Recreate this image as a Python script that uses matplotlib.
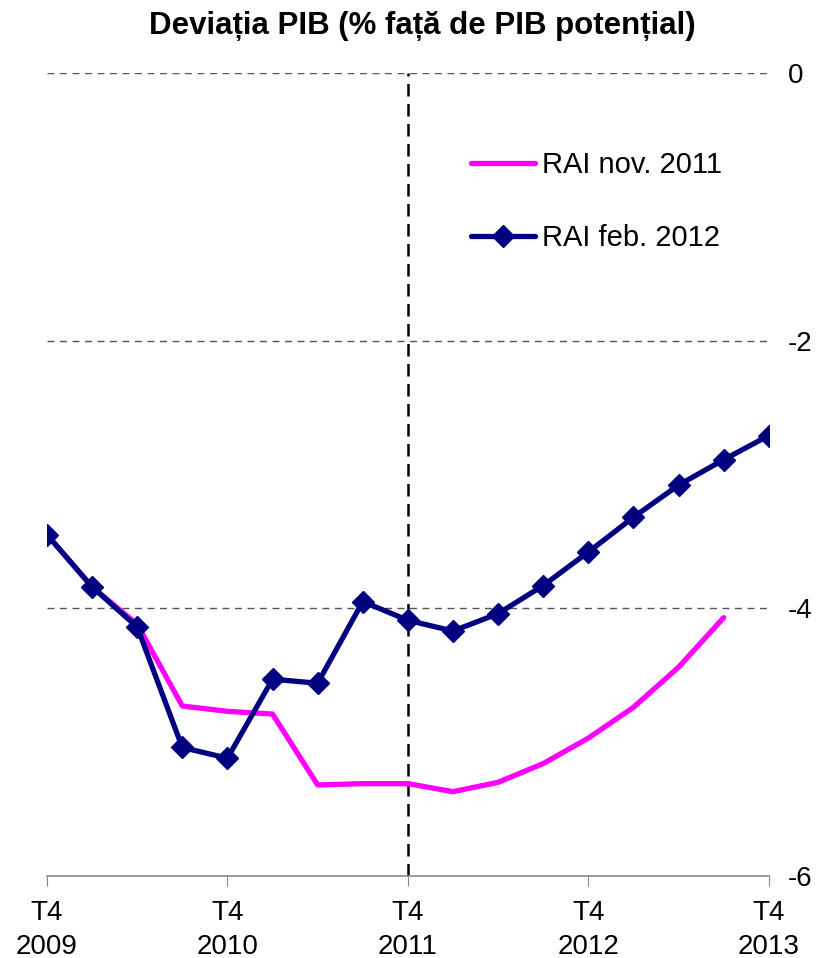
import matplotlib.pyplot as plt
import numpy as np

plt.rcParams['font.family'] = ['Liberation Sans', 'DejaVu Sans']

# trimestre T4 2009 ... T4 2013
trimestre = np.arange(17)
etichete_x = ['T4\n2009', 'T4\n2010', 'T4\n2011', 'T4\n2012', 'T4\n2013']

# RAI nov. 2011 (se opreste la T3 2013)
rai_nov_2011 = [-3.45, -3.84, -4.12, -4.73, -4.77, -4.79, -5.32, -5.31, -5.31,
                -5.37, -5.30, -5.16, -4.97, -4.74, -4.44, -4.07]
# RAI feb. 2012
rai_feb_2012 = [-3.45, -3.84, -4.14, -5.04, -5.12, -4.53, -4.56, -3.95, -4.09,
                -4.17, -4.04, -3.83, -3.58, -3.32, -3.08, -2.89, -2.71]

fig = plt.figure(figsize=(8.24, 9.58), dpi=100)
ax = fig.add_axes([0.057, 0.0856, 0.876, 0.8384])

# grila orizontala
for v in [0, -2, -4]:
    ax.axhline(v, color='#555555', linestyle=(0, (5, 4)), linewidth=1.0, zorder=1)
# linie verticala T4 2011
ax.axvline(8, color='black', linestyle=(0, (5, 3)), linewidth=1.8, zorder=1)

ax.plot(trimestre[:len(rai_nov_2011)], rai_nov_2011, color='#FF00FF', linewidth=3.8,
        label='RAI nov. 2011', zorder=3, solid_capstyle='round')
ax.plot(trimestre, rai_feb_2012, color='#000080', linewidth=3.8, marker='D',
        markersize=11, label='RAI feb. 2012', zorder=4, solid_capstyle='round')

ax.set_xlim(0, 16)
ax.set_ylim(-6, 0)
ax.set_xticks([0, 4, 8, 12, 16])
ax.set_xticklabels(etichete_x, fontsize=20, linespacing=1.4)
ax.tick_params(axis='x', length=7, color='#888888', pad=10)

ax.yaxis.tick_right()
ax.set_yticks([0, -2, -4, -6])
ax.set_yticklabels(['0', '-2', '-4', '-6'], fontsize=20)
ax.tick_params(axis='y', length=0, pad=14)

for s in ['left', 'right', 'top']:
    ax.spines[s].set_visible(False)
ax.spines['bottom'].set_color('#888888')
ax.spines['bottom'].set_linewidth(1.2)

fig.text(0.512, 0.973, 'Deviația PIB (% față de PIB potențial)', fontsize=22.5,
         fontweight='bold', ha='center', va='center')

leg = ax.legend(loc='upper left', bbox_to_anchor=(0.551, 0.935), frameon=False, fontsize=21,
                handlelength=2.2, handletextpad=0.25, labelspacing=1.55)

fig.savefig('out.png', dpi=100)
